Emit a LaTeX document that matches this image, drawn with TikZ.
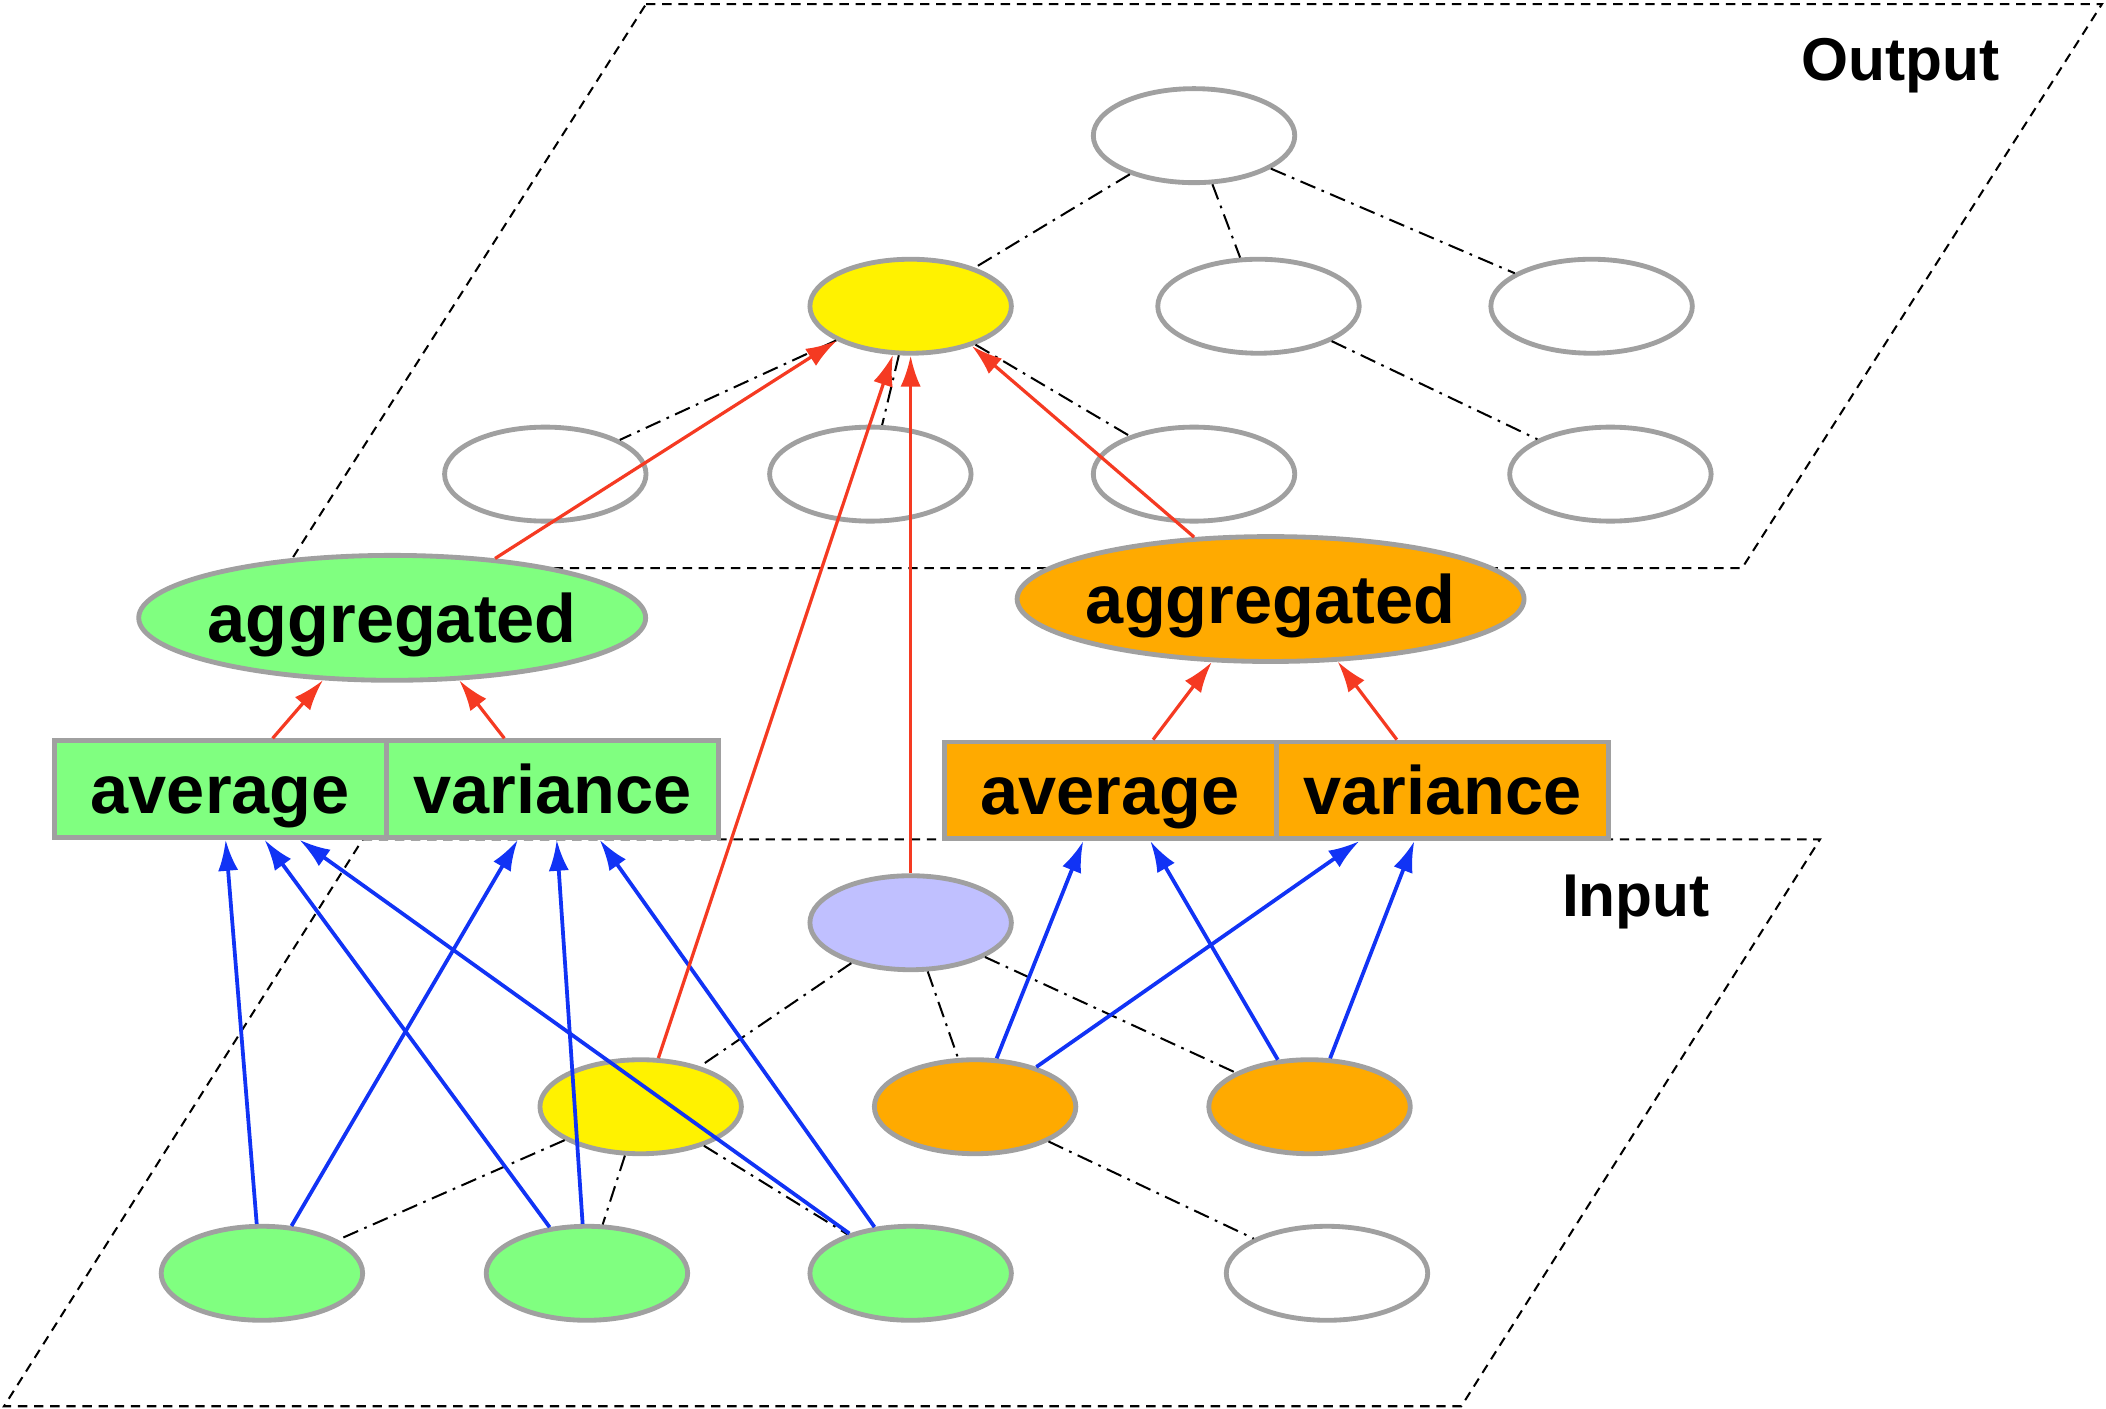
\documentclass[tikz,border=0pt]{standalone}
\usepackage{fontspec}
\setmainfont{Liberation Sans}
\usetikzlibrary{shapes.geometric,arrows.meta}
\definecolor{ngreen}{HTML}{80FF80}
\definecolor{norange}{HTML}{FFAA00}
\definecolor{nlav}{HTML}{C0C0FF}
\definecolor{nrim}{HTML}{A0A0A0}
\definecolor{nred}{HTML}{F53A22}
\definecolor{nblue}{HTML}{1133F5}

\begin{document}
\begin{tikzpicture}[x=1pt, y=-1pt]
    \tikzstyle{every node}=[inner sep=0pt]
    \tikzstyle{ball}=[ellipse, draw=nrim, line width=3.6pt, fill=white, minimum width=150pt, minimum height=70pt]
    \tikzstyle{word}=[font=\fontsize{51}{60}\selectfont\bfseries, text height=45pt, text depth=9pt]
    \tikzstyle{agg}=[word, ellipse, draw=nrim, line width=3.6pt, inner xsep=-4pt, minimum width=377pt, minimum height=93pt]
    \tikzstyle{cell}=[word, rectangle, draw=nrim, line width=3.6pt, minimum width=247pt, minimum height=72pt]
    \tikzstyle{tag}=[font=\fontsize{45}{54}\selectfont\bfseries, anchor=base]
    \tikzstyle{link}=[line width=1.5pt, dash pattern=on 12pt off 5pt on 2pt off 5pt]
    \tikzstyle{plane}=[line width=1.5pt, dash pattern=on 7pt off 5pt]
    \tikzstyle{feed}=[nred, line width=2.4pt, -{Latex[length=23pt,width=15pt]}]
    \tikzstyle{stat}=[nblue, line width=2.8pt, -{Latex[length=23pt,width=15pt]}]

    \useasboundingbox (0,0) rectangle (1568,1049);

    % the two planes
    \draw[plane] (481,3) -- (1565,3) -- (1297,423) -- (213,423) -- cycle;
    \draw[plane] (270,625) -- (1355,625) -- (1088,1047) -- (3,1047) -- cycle;
    \node[tag] (outLbl) at (1415,60) {Output};
    \node[tag] (inLbl) at (1218,682) {Input};

    % output tree
    \node[ball] (out0) at (889,101) {};
    \node[ball, fill=yellow] (outY) at (678,228) {};
    \node[ball] (out2) at (937,228) {};
    \node[ball] (out3) at (1185,228) {};
    \node[ball] (out4) at (406,353) {};
    \node[ball] (out5) at (648,353) {};
    \node[ball] (out6) at (889,353) {};
    \node[ball] (out7) at (1199,353) {};

    % input tree
    \node[ball, fill=nlav] (inL) at (678,687) {};
    \node[ball, fill=yellow] (inY) at (477,824) {};
    \node[ball, fill=norange] (inO1) at (726,824) {};
    \node[ball, fill=norange] (inO2) at (975,824) {};
    \node[ball, fill=ngreen] (inG1) at (195,948) {};
    \node[ball, fill=ngreen] (inG2) at (437,948) {};
    \node[ball, fill=ngreen] (inG3) at (678,948) {};
    \node[ball] (inW) at (988,948) {};

    % statistics
    \node[cell, fill=ngreen] (avgG) at (164,587.5) {average};
    \node[cell, fill=ngreen] (varG) at (411.5,587.5) {variance};
    \node[cell, fill=norange] (avgO) at (826.5,588.5) {average};
    \node[cell, fill=norange] (varO) at (1074,588.5) {variance};
    \node[agg, fill=ngreen] (aggG) at (292,460) {aggregated};
    \node[agg, fill=norange] (aggO) at (946,446) {aggregated};

    \foreach \a/\b in {out0/outY, out0/out2, out0/out3, outY/out4, outY/out5, outY/out6, out2/out7,
                       inL/inY, inL/inO1, inL/inO2, inY/inG1, inY/inG2, inY/inG3, inO1/inW}
        \draw[link] (\a) -- (\b);

    % blue: nodes to statistics
    \foreach \a/\b/\s in {inG1.96/avgG/4pt, inG1.58/varG/-26pt, inG2.129/avgG/33pt, inG2.95/varG/3pt,
                          inG3.147/avgG/59pt, inG3.128/varG/35pt, inO1.66/avgO/-20pt, inO1.33/varO/-62pt,
                          inO2.124/avgO/30pt, inO2.67/varO/-21pt}
        \draw[stat] (\a) -- ([xshift=\s]\b.south);

    % red: statistics to aggregated to output
    \draw[feed] ([xshift=39pt]avgG.north) -- (aggG.222);
    \draw[feed] ([xshift=-36pt]varG.north) -- (aggG.317);
    \draw[feed] ([xshift=32pt]avgO.north) -- (aggO.227);
    \draw[feed] ([xshift=-34pt]varO.north) -- (aggO.317);
    \draw[feed] (aggG.30) -- (outY.205);
    \draw[feed] (aggO.141) -- (outY.327);
    \draw[feed] (inL.north) -- (outY.south);
    \draw[feed] (inY.70) -- (outY.250);
\end{tikzpicture}
\end{document}
